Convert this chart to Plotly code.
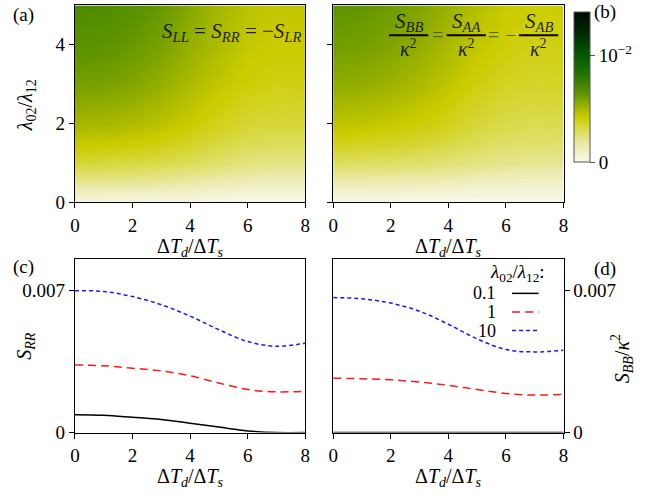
import plotly.graph_objects as go

W, H = 646, 498
FONT = "Liberation Serif, Times New Roman, DejaVu Serif, serif"

# ---------------- data ----------------
# heatmap grid (values in units of 1e-3)
x_grid = [0, 1, 2, 3, 4, 5, 6, 7, 8]
y_grid = [0, 0.25, 0.5, 1, 1.5, 2, 3, 4, 5]
z_a = [
    [0.2, 0.2, 0.2, 0.15, 0.1, 0.05, 0.0, 0.0, 0.0],
    [1.0, 1.0, 0.95, 0.9, 0.8, 0.65, 0.55, 0.5, 0.5],
    [2.0, 1.95, 1.9, 1.8, 1.6, 1.4, 1.25, 1.2, 1.2],
    [3.4, 3.35, 3.25, 3.1, 2.9, 2.6, 2.3, 2.2, 2.2],
    [4.3, 4.25, 4.15, 3.95, 3.65, 3.3, 3.0, 2.9, 2.9],
    [5.0, 4.95, 4.8, 4.55, 4.2, 3.8, 3.5, 3.4, 3.4],
    [5.9, 5.85, 5.65, 5.3, 4.85, 4.4, 4.05, 3.9, 3.95],
    [6.5, 6.45, 6.2, 5.85, 5.3, 4.8, 4.35, 4.2, 4.25],
    [6.9, 6.8, 6.6, 6.2, 5.6, 5.0, 4.55, 4.4, 4.45],
]
z_b = [
    [0.0, 0.0, 0.0, 0.0, 0.0, 0.0, 0.0, 0.0, 0.0],
    [0.6, 0.6, 0.6, 0.55, 0.5, 0.45, 0.4, 0.4, 0.4],
    [1.4, 1.4, 1.35, 1.3, 1.2, 1.05, 0.95, 0.9, 0.9],
    [2.8, 2.75, 2.7, 2.6, 2.45, 2.25, 2.05, 1.95, 1.95],
    [3.8, 3.75, 3.65, 3.5, 3.25, 2.95, 2.7, 2.6, 2.65],
    [4.5, 4.45, 4.3, 4.1, 3.8, 3.45, 3.15, 3.05, 3.1],
    [5.4, 5.35, 5.15, 4.85, 4.45, 4.0, 3.7, 3.6, 3.65],
    [6.0, 5.95, 5.7, 5.35, 4.9, 4.4, 4.05, 3.9, 3.95],
    [6.4, 6.3, 6.05, 5.7, 5.2, 4.65, 4.25, 4.1, 4.15],
]

# line plots
x_line = [0, 1, 2, 3, 4, 5, 6, 7, 8]
c_01 = [0.00088, 0.00085, 0.00075, 0.00064, 0.00046, 0.00027, 0.00008, 0.0, 0.0]
c_1 = [0.00332, 0.00328, 0.00316, 0.00303, 0.00279, 0.00243, 0.00211, 0.00200, 0.00203]
c_10 = [0.00697, 0.00693, 0.00668, 0.00628, 0.00572, 0.00505, 0.00447, 0.00424, 0.00439]
d_01 = [0.0, 0.0, 0.0, 0.0, 0.0, 0.0, 0.0, 0.0, 0.0]
d_1 = [0.00267, 0.00264, 0.00259, 0.00248, 0.00232, 0.00211, 0.00192, 0.00184, 0.00187]
d_10 = [0.00663, 0.00657, 0.00636, 0.00596, 0.00532, 0.00460, 0.00408, 0.00396, 0.00404]

legend_names = ["0.1", "1", "10"]
x_ticks = [0, 2, 4, 6, 8]
y_ticks_top = [0, 2, 4]
y_ticks_bot = [0, 0.007]
y_ticktext_bot = ["0", "0.007"]
cbar_ticks = [0, 10]
cbar_ticktext = ["0", "10<sup>−2</sup>"]

# ---------------- helpers ----------------
def px(x):
    return x / W

def py(y):
    return 1 - y / H

colorscale = [
    [0.0, "#f8f8ea"],
    [0.107, "#ecebb0"],
    [0.214, "#dcdc55"],
    [0.30, "#cccc00"],
    [0.37, "#9cb200"],
    [0.45, "#629600"],
    [0.50, "#4a8800"],
    [0.60, "#1e7000"],
    [0.714, "#005800"],
    [0.857, "#002a00"],
    [1.0, "#000800"],
]

fig = go.Figure()

fig.add_trace(go.Heatmap(x=x_grid, y=y_grid, z=z_a, zsmooth="best",
                         coloraxis="coloraxis", xaxis="x", yaxis="y"))
fig.add_trace(go.Heatmap(x=x_grid, y=y_grid, z=z_b, zsmooth="best",
                         coloraxis="coloraxis", xaxis="x2", yaxis="y2"))

styles = [("black", "solid"), ("#ff1a1a", "8px,5px"), ("#1a1aff", "4px,3px")]
for ys, (col, dash) in zip([c_01, c_1, c_10], styles):
    fig.add_trace(go.Scatter(x=x_line, y=ys, mode="lines", line_shape="spline",
                             line=dict(color=col, width=1.5, dash=dash),
                             xaxis="x3", yaxis="y3", showlegend=False, cliponaxis=True))
for ys, (col, dash) in zip([d_01, d_1, d_10], styles):
    fig.add_trace(go.Scatter(x=x_line, y=ys, mode="lines", line_shape="spline",
                             line=dict(color=col, width=1.5, dash=dash),
                             xaxis="x4", yaxis="y4", showlegend=False, cliponaxis=True))

axis_common = dict(showline=True, linecolor="black", linewidth=1, mirror=True,
                   ticks="outside", ticklen=5, tickcolor="black", showgrid=False,
                   zeroline=False, tickfont=dict(size=19, family=FONT, color="black"))

xa = [px(71), px(305)]
xb = [px(333.3), px(567.3)]
ytop = [py(207), py(5.5)]
ybot = [py(442.3), py(265)]

fig.update_layout(
    width=W, height=H,
    margin=dict(l=0, r=0, t=0, b=0),
    paper_bgcolor="white", plot_bgcolor="white",
    font=dict(family=FONT, size=19, color="black"),
    showlegend=False,
    xaxis=dict(domain=xa, anchor="y", range=[0, 8], tickvals=x_ticks,
               ticklabelstandoff=1, **axis_common),
    yaxis=dict(domain=ytop, anchor="x", range=[0, 5], tickvals=y_ticks_top, **axis_common),
    xaxis2=dict(domain=xb, anchor="y2", range=[0, 8], tickvals=x_ticks,
                ticklabelstandoff=1, **axis_common),
    yaxis2=dict(domain=ytop, anchor="x2", range=[0, 5], tickvals=y_ticks_top,
                showticklabels=False, **axis_common),
    xaxis3=dict(domain=xa, anchor="y3", range=[0, 8], tickvals=x_ticks,
                ticklabelstandoff=1, **axis_common),
    yaxis3=dict(domain=ybot, anchor="x3", range=[0, 0.00852], tickvals=y_ticks_bot,
                ticktext=y_ticktext_bot, **axis_common),
    xaxis4=dict(domain=xb, anchor="y4", range=[0, 8], tickvals=x_ticks,
                ticklabelstandoff=1, **axis_common),
    yaxis4=dict(domain=ybot, anchor="x4", range=[0, 0.00852], tickvals=y_ticks_bot,
                ticktext=y_ticktext_bot, side="right", **axis_common),
    coloraxis=dict(
        colorscale=colorscale, cmin=0, cmax=14,
        colorbar=dict(
            x=px(578), xanchor="left", xpad=0, thickness=16,
            y=py(166), yanchor="bottom", ypad=0, len=153 / H, lenmode="fraction",
            outlinewidth=1, outlinecolor="#555555",
            tickvals=cbar_ticks, ticktext=cbar_ticktext,
            ticks="outside", ticklen=5, tickcolor="#555555",
            tickfont=dict(size=19, family=FONT, color="black"),
        ),
    ),
)

ann = []

def add_text(text, x, y, xanchor="center", yanchor="middle", size=19, angle=0, color="black"):
    ann.append(dict(text=text, x=px(x), y=py(y), xref="paper", yref="paper",
                    xanchor=xanchor, yanchor=yanchor, showarrow=False, textangle=angle,
                    font=dict(size=size, family=FONT, color=color)))

# panel labels
add_text("(a)", 19, 15)
add_text("(b)", 609, 12)
add_text("(c)", 19, 273)
add_text("(d)", 609, 275)

# axis titles
dT = "Δ<i>T</i><sub><i>d</i></sub>/Δ<i>T</i><sub><i>s</i></sub>"
add_text(dT, 188, 238, yanchor="top", size=20)
add_text(dT, 450, 238, yanchor="top", size=20)
add_text(dT, 188, 473, yanchor="top", size=20)
add_text(dT, 450, 473, yanchor="top", size=20)
add_text("<i>λ</i><sub>02</sub>/<i>λ</i><sub>12</sub>", 22, 108, angle=-90, size=20)
add_text("<i>S</i><sub><i>RR</i></sub>", 20, 354, angle=-90, size=20)
add_text("<i>S</i><sub><i>BB</i></sub>/<i>κ</i><sup>2</sup>", 627, 367, angle=-90, size=20)

# equation in panel (a)
eqc = "rgba(0,0,0,0.85)"
add_text("<i>S</i><sub><i>LL</i></sub> = <i>S</i><sub><i>RR</i></sub> = −<i>S</i><sub><i>LR</i></sub>",
         303, 33, xanchor="right", size=21, color=eqc)

# fraction equation in panel (b)
shapes = []
for cx, lab in [(410, "BB"), (468.5, "AA"), (542, "AB")]:
    add_text("<i>S</i><sub><i>%s</i></sub>" % lab, cx, 22, size=21, color=eqc)
    add_text("<i>κ</i><sup>2</sup>", cx, 49, size=20, color=eqc)
    shapes.append(dict(type="line", xref="paper", yref="paper",
                       x0=px(cx - 20), x1=px(cx + 20), y0=py(36), y1=py(36),
                       line=dict(color="black", width=2)))
add_text("=", 439, 36, size=20, color="rgba(40,60,0,0.7)")
add_text("=", 496, 36, size=20, color="rgba(40,60,0,0.7)")
add_text("−", 513, 36, size=20, color="rgba(40,60,0,0.7)")

# legend in panel (d)
add_text("<i>λ</i><sub>02</sub>/<i>λ</i><sub>12</sub>:", 551, 279, xanchor="right", size=19)
for (name, (col, dash)), yy in zip(zip(legend_names, styles), [300, 319, 338]):
    add_text(name, 501, yy, xanchor="right", size=18)
    shapes.append(dict(type="line", xref="paper", yref="paper",
                       x0=px(515), x1=px(542), y0=py(yy), y1=py(yy),
                       line=dict(color=col, width=1.5, dash=dash)))

fig.update_layout(annotations=ann, shapes=shapes)

fig.write_html("out.html")
